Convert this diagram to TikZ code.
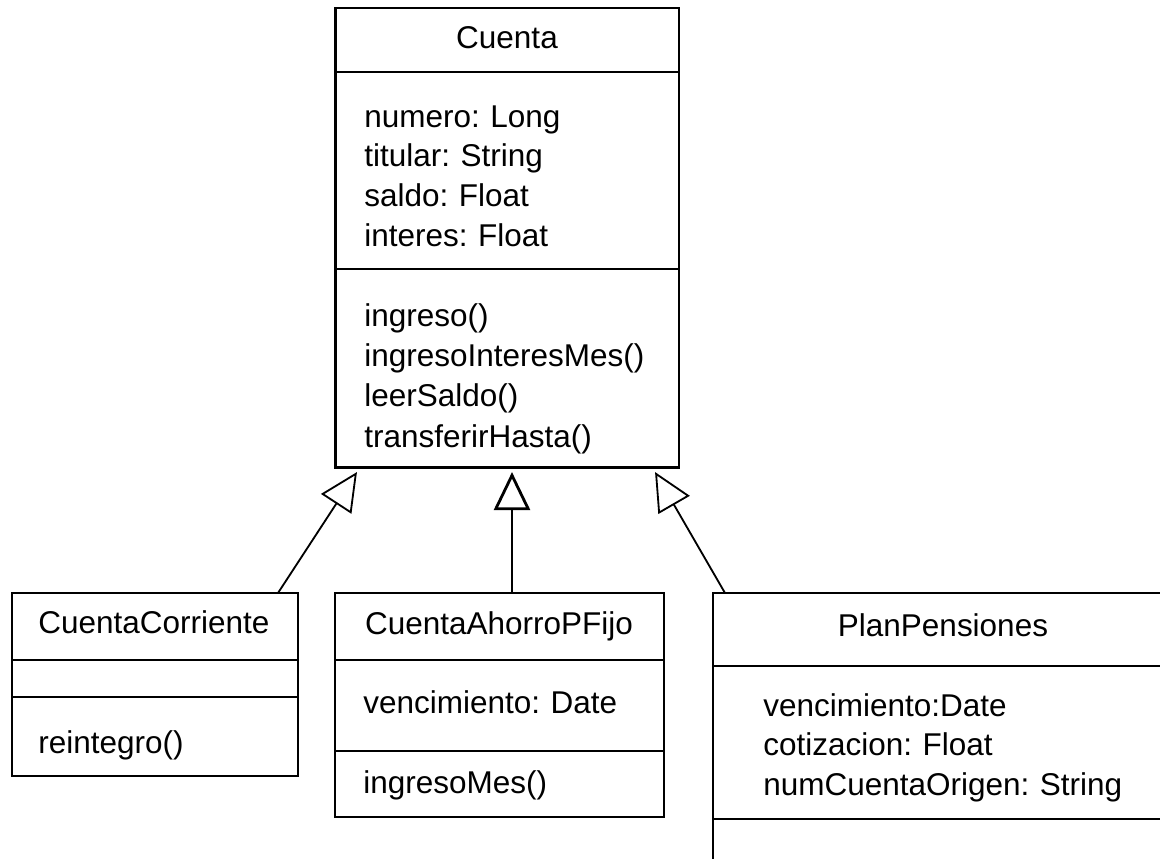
\documentclass[tikz,border=0pt]{standalone}
\usepackage{fontspec}
\setmainfont{Liberation Sans}
\usetikzlibrary{arrows.meta,calc}
\newcommand{\umlfont}{\fontsize{22.4pt}{28.4pt}\selectfont\frenchspacing}
\tikzset{
  umlbox/.style={draw, line width=2pt, inner sep=0pt, outer sep=0pt},
  sepline/.style={line width=2pt},
  classname/.style={anchor=base, inner sep=0pt},
  members/.style={anchor=base west, inner sep=0pt, align=left, text width=110mm},
  herencia/.style={-{Triangle[open,length=9.5mm,width=9mm]}, line width=1.3pt},
}

\begin{document}
\begin{tikzpicture}[x=0.25mm,y=-0.25mm,font=\umlfont]
   \clip (0,0) rectangle (1160,858);

   % superclase
   \node[umlbox, minimum width=85.9mm, minimum height=114.9mm] (cuenta) at (507.25,237.75) {};
   \node[classname] (cuentaT) at (507,48) {Cuenta};
   \draw[sepline] (cuenta.west |- 0,72) -- (cuenta.east |- 0,72);
   \node[members] (cuentaA) at (364,127) {numero: Long\\titular: String\\saldo: Float\\interes: Float};
   \draw[sepline] (cuenta.west |- 0,269) -- (cuenta.east |- 0,269);
   \node[members, font=\fontsize{22.4pt}{28.7pt}\selectfont] (cuentaM) at (364,326) {ingreso()\\ingresoInteresMes()\\leerSaldo()\\transferirHasta()};

   % subclases
   \node[umlbox, minimum width=71.5mm, minimum height=45.75mm] (corriente) at (155,684.5) {};
   \node[classname] (corrienteT) at (154,633) {CuentaCorriente};
   \draw[sepline] (corriente.west |- 0,660) -- (corriente.east |- 0,660);
   \draw[sepline] (corriente.west |- 0,697) -- (corriente.east |- 0,697);
   \node[members] (corrienteM) at (38,753) {reintegro()};

   \node[umlbox, minimum width=82.25mm, minimum height=56mm] (ahorro) at (499.5,705) {};
   \node[classname] (ahorroT) at (499,634) {CuentaAhorroPFijo};
   \draw[sepline] (ahorro.west |- 0,660) -- (ahorro.east |- 0,660);
   \node[members] (ahorroA) at (363,713) {vencimiento: Date};
   \draw[sepline] (ahorro.west |- 0,751) -- (ahorro.east |- 0,751);
   \node[members] (ahorroM) at (363,793) {ingresoMes()};

   \node[umlbox, minimum width=115mm, minimum height=76.75mm] (plan) at (943,746.5) {};
   \node[classname] (planT) at (943,636) {PlanPensiones};
   \draw[sepline] (plan.west |- 0,666) -- (plan.east |- 0,666);
   \node[members] (planA) at (763,716) {vencimiento:Date\\cotizacion: Float\\numCuentaOrigen: String};
   \draw[sepline] (plan.west |- 0,819) -- (plan.east |- 0,819);

   % herencia
   \draw[herencia] ($(corriente.north east)+(-20,0)$) -- ($(cuenta.south west)+(21.5,4.5)$);
   \draw[herencia, line width=2pt] ($(ahorro.north)+(12.5,0)$) -- ($(cuenta.south)+(4.75,4.5)$);
   \draw[herencia] ($(plan.north west)+(12,0)$) -- ($(cuenta.south east)+(-24,4.5)$);
\end{tikzpicture}
\end{document}
